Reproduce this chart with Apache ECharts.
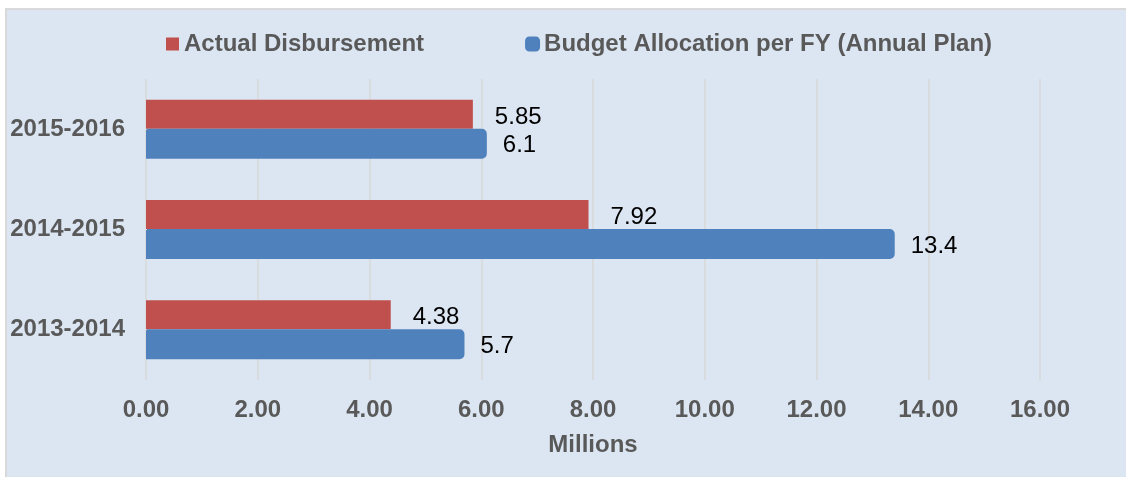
<!DOCTYPE html>
<html>
<head>
<meta charset="utf-8">
<script src="https://cdn.jsdelivr.net/npm/echarts@6/dist/echarts.min.js"></script>
<style>
  html, body { margin: 0; padding: 0; background: #ffffff; }
  #chart { width: 1126px; height: 477px; }
</style>
</head>
<body>
<div id="chart"></div>
<script>
// Fiscal years, listed bottom to top on the category axis
const years = ['2013-2014', '2014-2015', '2015-2016'];
// Values in millions
const actualDisbursement = [4.38, 7.92, 5.85];
const budgetAllocation = [5.7, 13.4, 6.1];
// Value axis ticks
const axisMin = 0;
const axisMax = 16;
const axisStep = 2;

const seriesNames = ['Actual Disbursement', 'Budget Allocation per FY (Annual Plan)'];
const RED = '#C0504D';
const BLUE = '#4F81BD';
const FONT = '"Liberation Sans", Arial, sans-serif';
const GREY_TEXT = '#595959';

const chart = echarts.init(document.getElementById('chart'), null, { renderer: 'canvas' });

chart.setOption({
  backgroundColor: '#ffffff',
  animation: false,
  textStyle: { fontFamily: FONT },
  graphic: [{
    type: 'rect',
    z: -100,
    silent: true,
    shape: { x: 6, y: 9, width: 1140, height: 490 },
    style: { fill: '#DCE6F2', stroke: '#D9D9D9', lineWidth: 2 }
  }],
  legend: {
    left: 161,
    top: 27,
    itemWidth: 13,
    itemHeight: 13,
    itemGap: 101,
    textStyle: { fontFamily: FONT, fontSize: 24, fontWeight: 'bold', color: GREY_TEXT },
    data: [
      { name: seriesNames[0], icon: 'rect' },
      { name: seriesNames[1], icon: 'roundRect' }
    ]
  },
  grid: {
    left: 146,
    right: 86,
    top: 79,
    bottom: 97,
    containLabel: false,
    outerBoundsMode: 'none'
  },
  xAxis: {
    type: 'value',
    min: axisMin,
    max: axisMax,
    interval: axisStep,
    name: 'Millions',
    nameLocation: 'middle',
    nameGap: 53,
    nameTextStyle: { fontFamily: FONT, fontSize: 24, fontWeight: 'bold', color: GREY_TEXT },
    axisLine: { show: false },
    axisTick: { show: false },
    axisLabel: {
      margin: 18,
      fontFamily: FONT,
      fontSize: 24,
      fontWeight: 'bold',
      color: GREY_TEXT,
      formatter: v => v.toFixed(2)
    },
    splitLine: { show: true, lineStyle: { color: '#D9D9D9', width: 1.5 } }
  },
  yAxis: {
    type: 'category',
    data: years,
    axisLine: { show: false },
    axisTick: { show: false },
    axisLabel: {
      margin: 21,
      fontFamily: FONT,
      fontSize: 24,
      fontWeight: 'bold',
      color: GREY_TEXT
    },
    splitLine: { show: false }
  },
  series: [
    {
      name: seriesNames[0],
      type: 'bar',
      data: actualDisbursement,
      barWidth: 29,
      barGap: '0%',
      itemStyle: { color: RED },
      label: {
        show: true,
        position: 'right',
        distance: 22,
        offset: [0, 3],
        fontFamily: FONT,
        fontSize: 24,
        color: '#000000'
      }
    },
    {
      name: seriesNames[1],
      type: 'bar',
      data: budgetAllocation,
      barWidth: 30,
      barGap: '0%',
      itemStyle: { color: BLUE, borderRadius: [0, 4, 4, 0], borderColor: BLUE, borderWidth: 2 },
      label: {
        show: true,
        position: 'right',
        distance: 16,
        offset: [0, 2],
        fontFamily: FONT,
        fontSize: 24,
        color: '#000000'
      }
    }
  ]
});
</script>
</body>
</html>
